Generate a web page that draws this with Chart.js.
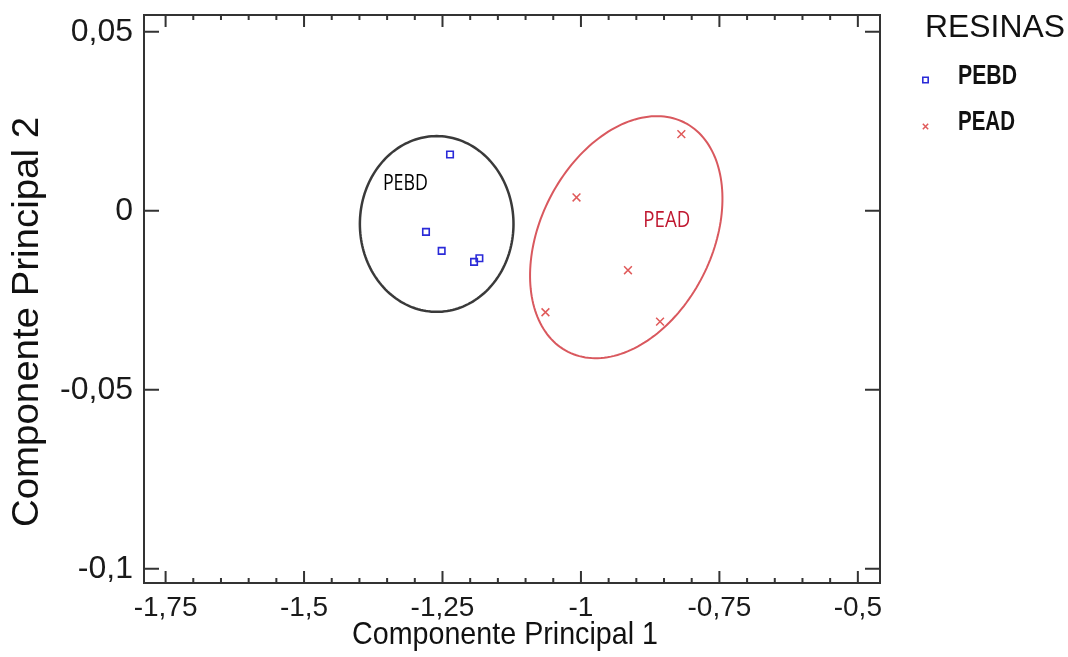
<!DOCTYPE html>
<html>
<head>
<meta charset="utf-8">
<script src="https://cdn.jsdelivr.net/npm/chart.js@4.4.0/dist/chart.umd.min.js"></script>
<style>
  html, body { margin: 0; padding: 0; background: #fff; }
  #wrap { width: 1068px; height: 657px; }
</style>
</head>
<body>
<div id="wrap"><canvas id="grafik"></canvas></div>
<script>
// data
var kelompok = ['PEBD', 'PEAD'];
var judulLegenda = 'RESINAS';

var pebdX = [-1.2364, -1.2798, -1.2515, -1.1930, -1.1834];
var pebdY = [0.01574, -0.0059, -0.01121, -0.01429, -0.01325];

var peadX = [-0.8187, -1.0080, -0.9151, -1.0641, -0.8572];
var peadY = [0.02141, 0.00372, -0.01661, -0.02835, -0.03095];

// elips kelompok: pusat + dua vektor setengah sumbu (satuan data)
var elipsPEBD = { pusat: [-1.2605, -0.00369], a: [0.1387, 0], b: [0, 0.02455] };
var elipsPEAD = { pusat: [-0.9182, -0.00738], a: [0.10506, 0.03204], b: [0.13834, -0.01082] };

// sumbu
var xMayor = [-1.75, -1.5, -1.25, -1, -0.75, -0.5];
var xMinorStep = 0.05;
var yMayor = [-0.1, -0.05, 0, 0.05];
var xBatas = [-1.789, -0.46];
var yBatas = [-0.1040, 0.0547];

function koma(v) { return String(v).replace('.', ','); }
function isMayorX(v) {
  return xMayor.some(function(m) { return Math.abs(m - v) < 1e-9; });
}
function gabung(xs, ys) {
  return xs.map(function(x, i) { return { x: x, y: ys[i] }; });
}

// tulis teks dengan lebar tertentu (teks di gambar asli agak dipadatkan)
function tulis(ctx, teks, x, y, font, warna, lebar, sudut) {
  ctx.save();
  ctx.font = font;
  var sx = lebar ? lebar / ctx.measureText(teks).width : 1;
  ctx.translate(x, y);
  if (sudut) ctx.rotate(sudut);
  ctx.scale(sx, 1);
  ctx.fillStyle = warna;
  ctx.textAlign = 'left';
  ctx.textBaseline = 'alphabetic';
  ctx.fillText(teks, 0, 0);
  ctx.restore();
}

function gambarElips(chart, e, warna, tebal) {
  var ctx = chart.ctx, sx = chart.scales.x, sy = chart.scales.y;
  ctx.save();
  ctx.beginPath();
  for (var i = 0; i <= 180; i++) {
    var t = i / 180 * Math.PI * 2;
    var vx = e.pusat[0] + Math.cos(t) * e.a[0] + Math.sin(t) * e.b[0];
    var vy = e.pusat[1] + Math.cos(t) * e.a[1] + Math.sin(t) * e.b[1];
    var px = sx.getPixelForValue(vx), py = sy.getPixelForValue(vy);
    if (i === 0) ctx.moveTo(px, py); else ctx.lineTo(px, py);
  }
  ctx.closePath();
  ctx.strokeStyle = warna;
  ctx.lineWidth = tebal;
  ctx.stroke();
  ctx.restore();
}

var pluginBingkai = {
  id: 'bingkai',
  beforeDatasetsDraw: function(chart) {
    gambarElips(chart, elipsPEBD, '#3a3a3a', 2.5);
    gambarElips(chart, elipsPEAD, '#d9585e', 2);
  },
  afterDraw: function(chart) {
    var ctx = chart.ctx, ca = chart.chartArea;
    var sx = chart.scales.x, sy = chart.scales.y;

    // bingkai
    ctx.save();
    ctx.strokeStyle = '#333';
    ctx.lineWidth = 2;
    ctx.strokeRect(ca.left, ca.top, ca.right - ca.left, ca.bottom - ca.top);

    // tick ke dalam
    ctx.beginPath();
    sx.ticks.forEach(function(t) {
      var px = sx.getPixelForValue(t.value);
      var len = isMayorX(t.value) ? 12 : 5;
      ctx.moveTo(px, ca.bottom); ctx.lineTo(px, ca.bottom - len);
      ctx.moveTo(px, ca.top); ctx.lineTo(px, ca.top + len);
    });
    sy.ticks.forEach(function(t) {
      var py = sy.getPixelForValue(t.value);
      ctx.moveTo(ca.left, py); ctx.lineTo(ca.left + 15, py);
      ctx.moveTo(ca.right, py); ctx.lineTo(ca.right - 15, py);
    });
    ctx.stroke();
    ctx.restore();

    // label kelompok di dalam plot
    tulis(ctx, 'PEBD', sx.getPixelForValue(-1.3576), sy.getPixelForValue(0.0059), '21px "Open Sans"', '#000', 45);
    tulis(ctx, 'PEAD', sx.getPixelForValue(-0.8874), sy.getPixelForValue(-0.00458), '21px "Open Sans"', '#c01830', 47);

    // judul sumbu
    tulis(ctx, 'Componente Principal 1', 352, 644, '32px "Liberation Sans", Arial, sans-serif', '#111', 306);
    tulis(ctx, 'Componente Principal 2', 38, 527, '36px "Liberation Sans", Arial, sans-serif', '#111', 410, -Math.PI / 2);

    // legenda
    tulis(ctx, judulLegenda, 925, 37, '31px "Liberation Sans", Arial, sans-serif', '#111', 140);
    var ds = chart.data.datasets;
    var posY = [80, 126.5];
    var lebarLabel = [59, 57];
    for (var i = 0; i < ds.length; i++) {
      ctx.save();
      ctx.strokeStyle = ds[i].borderColor;
      ctx.fillStyle = 'rgba(0,0,0,0)';
      ctx.lineWidth = ds[i].borderWidth;
      Chart.helpers.drawPoint(ctx, { pointStyle: ds[i].pointStyle, radius: 3.8, borderWidth: ds[i].borderWidth, rotation: 0 }, 925.5, posY[i]);
      ctx.restore();
      tulis(ctx, kelompok[i], 958, posY[i] + 3.5, 'bold 28px "Liberation Sans", Arial, sans-serif', '#111', lebarLabel[i]);
    }
  }
};

var ctx = document.getElementById('grafik').getContext('2d');
var grafik = new Chart(ctx, {
  type: 'scatter',
  data: {
    datasets: [{
      label: kelompok[0],
      data: gabung(pebdX, pebdY),
      pointStyle: 'rect',
      pointRadius: 4.6,
      borderColor: '#2a2ad8',
      backgroundColor: 'rgba(0,0,0,0)',
      borderWidth: 1.6
    }, {
      label: kelompok[1],
      data: gabung(peadX, peadY),
      pointStyle: 'crossRot',
      pointRadius: 5.5,
      borderColor: '#e05a5a',
      backgroundColor: 'rgba(0,0,0,0)',
      borderWidth: 1.5
    }]
  },
  options: {
    responsive: true,
    maintainAspectRatio: false,
    animation: false,
    layout: { padding: { top: 15, right: 188, left: 0, bottom: 0 } },
    plugins: {
      legend: { display: false },
      tooltip: { enabled: false }
    },
    scales: {
      x: {
        type: 'linear',
        min: xBatas[0],
        max: xBatas[1],
        grid: { display: false, drawTicks: false },
        border: { display: false },
        afterBuildTicks: function(scale) {
          var t = [];
          for (var i = 0; i < xMayor.length; i++) {
            t.push({ value: xMayor[i] });
            if (i < xMayor.length - 1) {
              for (var k = 1; k < 5; k++) t.push({ value: xMayor[i] + k * xMinorStep });
            }
          }
          scale.ticks = t;
        },
        afterFit: function(scale) {
          scale.height = 74;
          scale.paddingLeft = 0; scale.paddingRight = 0;
        },
        ticks: {
          autoSkip: false,
          maxRotation: 0,
          padding: 8,
          color: '#1a1a1a',
          font: { family: '"Liberation Sans"', size: 28 },
          callback: function(v) { return isMayorX(v) ? koma(v) : ''; }
        }
      },
      y: {
        type: 'linear',
        min: yBatas[0],
        max: yBatas[1],
        grid: { display: false, drawTicks: false },
        border: { display: false },
        afterBuildTicks: function(scale) {
          scale.ticks = yMayor.map(function(v) { return { value: v }; });
        },
        afterFit: function(scale) {
          scale.width = 144;
          scale.paddingTop = 0; scale.paddingBottom = 0;
        },
        ticks: {
          autoSkip: false,
          padding: 11,
          color: '#1a1a1a',
          font: { family: '"Liberation Sans"', size: 32 },
          callback: function(v) { return koma(v); }
        }
      }
    }
  },
  plugins: [pluginBingkai]
});
</script>
</body>
</html>
